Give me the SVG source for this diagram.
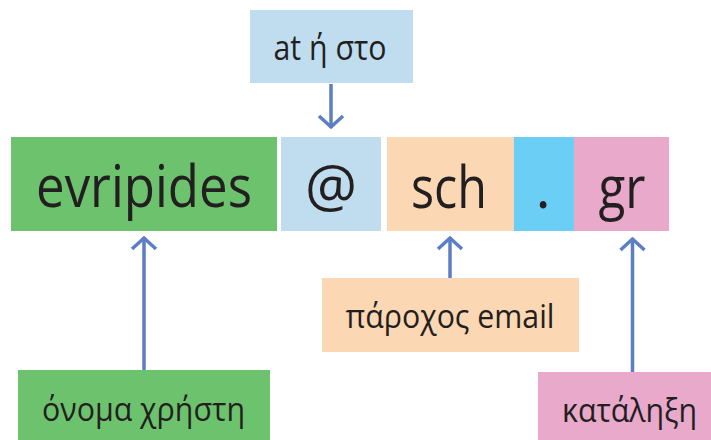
<svg xmlns="http://www.w3.org/2000/svg" width="711" height="440" viewBox="0 0 711 440">
<style>
text{font-family:"Open Sans","DejaVu Sans",sans-serif;fill:#231F20;text-anchor:middle}
.big{font-size:58px}
.lbl{font-size:33px}
.g{fill:#6DC36D}.b{fill:#BFDDEF}.p{fill:#FCD7B3}.c{fill:#6BCEF5}.k{fill:#E8A9CB}
.arr{stroke:#5B7EC5;stroke-width:3.5;fill:none;marker-end:url(#chev)}
</style>
<defs>
<marker id="chev" markerUnits="userSpaceOnUse" viewBox="-15 -15 20 30" markerWidth="20" markerHeight="30" refX="0" refY="0" orient="auto" overflow="visible">
<path d="M-12,-12 L-1,0 L-12,12" fill="none" stroke="#5B7EC5" stroke-width="3.5"/>
</marker>
</defs>
<rect width="711" height="440" fill="#fff"/>
<g id="node-evripides"><rect class="g" x="11" y="137" width="266" height="94"/><text class="big" x="144" y="207" textLength="216" lengthAdjust="spacingAndGlyphs">evripides</text></g>
<g id="node-at"><rect class="b" x="281" y="137" width="100" height="94"/><text class="big" x="331" y="207">@</text></g>
<g id="node-sch"><rect class="p" x="387" y="137" width="127" height="94"/><text class="big" x="449" y="208" textLength="76" lengthAdjust="spacingAndGlyphs">sch</text></g>
<g id="node-dot"><rect class="c" x="514" y="137" width="60" height="94"/><text class="big" x="543" y="208">.</text></g>
<g id="node-gr"><rect class="k" x="574" y="137" width="95" height="94"/><text class="big" x="622" y="208" textLength="47" lengthAdjust="spacingAndGlyphs">gr</text></g>
<g id="label-at"><rect class="b" x="250" y="10" width="163" height="73"/><text class="lbl" style="font-size:35px" x="330" y="60" textLength="113" lengthAdjust="spacingAndGlyphs">at ή στο</text></g>
<g id="label-provider"><rect class="p" x="322" y="278" width="257" height="74"/><text class="lbl" x="450" y="328" textLength="209" lengthAdjust="spacingAndGlyphs">πάροχος email</text></g>
<g id="label-username"><rect class="g" x="18" y="370" width="252" height="70"/><text class="lbl" x="143.5" y="421" textLength="203" lengthAdjust="spacingAndGlyphs">όνομα χρήστη</text></g>
<g id="label-ending"><rect class="k" x="538" y="372" width="173" height="68"/><text class="lbl" x="629.5" y="422" textLength="135" lengthAdjust="spacingAndGlyphs">κατάληξη</text></g>
<g id="connectors">
<path class="arr" d="M331,84 L331,128"/>
<path class="arr" d="M144,370 L144,237"/>
<path class="arr" d="M450,278 L450,237"/>
<path class="arr" d="M632.5,372 L632.5,238"/>
</g>
</svg>
